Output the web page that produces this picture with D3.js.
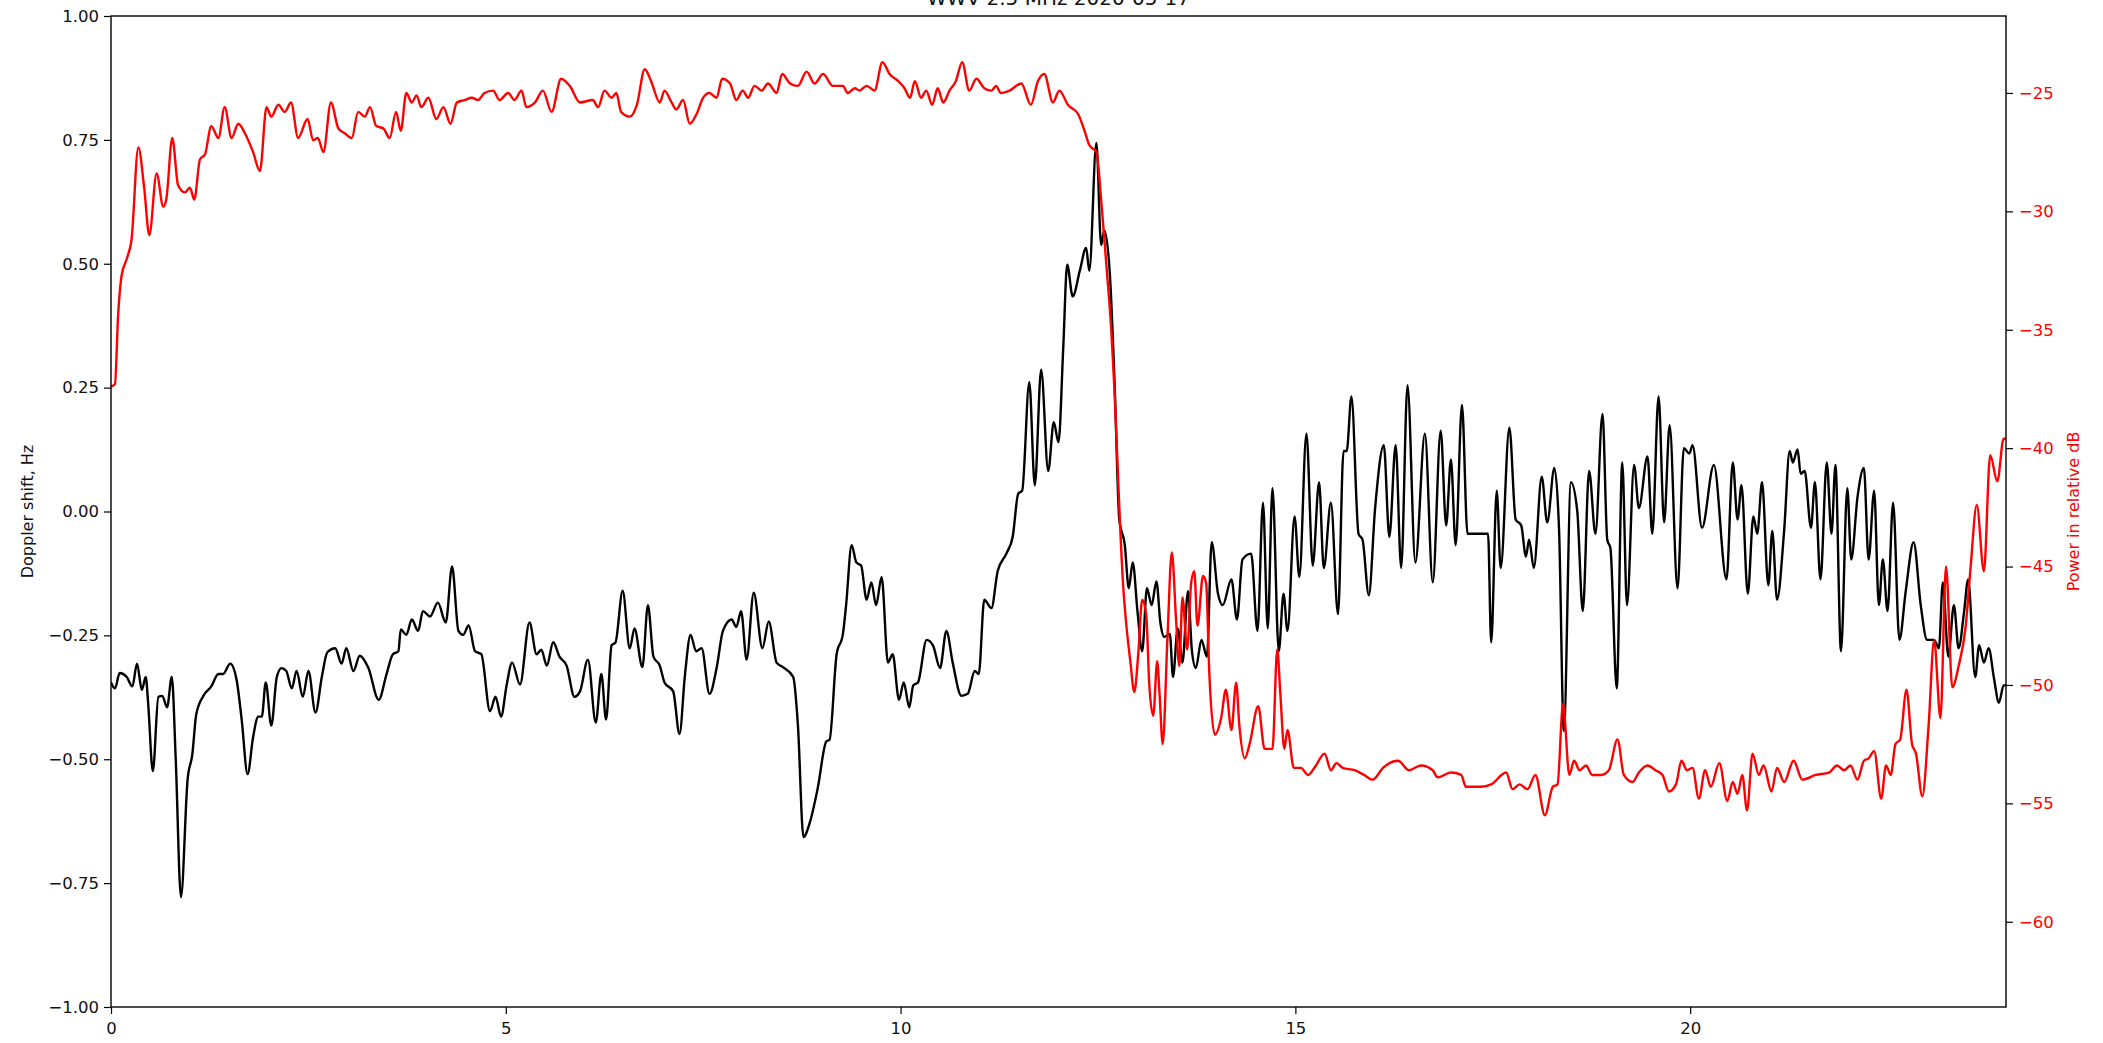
<!DOCTYPE html>
<html>
<head>
<meta charset="utf-8">
<script src="https://cdn.jsdelivr.net/npm/d3@7"></script>
<style>
  body { margin: 0; background: #fff; }
  text { font-family: "DejaVu Sans", sans-serif; }
</style>
</head>
<body>
<script>
// values
var titleText = "WWV 2.5 MHz 2020-05-17";

var hourTicks = [0, 5, 10, 15, 20];
var dopplerTicks = [-1, -0.75, -0.5, -0.25, 0, 0.25, 0.5, 0.75, 1];
var powerTicks = [-60, -55, -50, -45, -40, -35, -30, -25];

var dopplerHours = [
  0, 0.05, 0.11, 0.2, 0.27, 0.33, 0.39, 0.44, 0.47, 0.53, 0.6, 0.65, 0.71, 0.77, 0.82, 0.886, 0.97, 1.03, 1.08, 1.17,
  1.27, 1.36, 1.42, 1.51, 1.59, 1.655, 1.73, 1.8, 1.865, 1.91, 1.96, 2.03, 2.1, 2.16, 2.22, 2.29, 2.35, 2.43, 2.5, 2.59,
  2.67, 2.74, 2.84, 2.92, 2.98, 3.07, 3.15, 3.26, 3.39, 3.49, 3.57, 3.64, 3.67, 3.74, 3.81, 3.89, 3.95, 4.04, 4.14, 4.24,
  4.32, 4.4, 4.46, 4.53, 4.61, 4.69, 4.8, 4.87, 4.94, 5.01, 5.08, 5.18, 5.3, 5.39, 5.45, 5.52, 5.6, 5.68, 5.77, 5.87,
  5.94, 6.04, 6.14, 6.21, 6.27, 6.34, 6.39, 6.48, 6.57, 6.63, 6.73, 6.8, 6.87, 6.95, 7.01, 7.12, 7.2, 7.27, 7.34, 7.41,
  7.48, 7.58, 7.67, 7.75, 7.86, 7.92, 7.98, 8.05, 8.14, 8.25, 8.33, 8.43, 8.51, 8.64, 8.7, 8.77, 8.85, 8.95, 9.06, 9.1,
  9.19, 9.27, 9.31, 9.38, 9.44, 9.5, 9.57, 9.63, 9.69, 9.76, 9.84, 9.9, 9.98, 10.04, 10.11, 10.16, 10.22, 10.33, 10.41, 10.5,
  10.58, 10.66, 10.77, 10.85, 10.94, 10.99, 11.06, 11.15, 11.23, 11.34, 11.42, 11.49, 11.54, 11.63, 11.7, 11.78, 11.87, 11.94,
  12.0, 12.06, 12.11, 12.18, 12.27, 12.35, 12.39, 12.48, 12.54, 12.58, 12.65, 12.71, 12.77, 12.84, 12.89, 12.94, 13.0, 13.06,
  13.12, 13.18, 13.24, 13.29, 13.34, 13.41, 13.45, 13.51, 13.57, 13.64, 13.69, 13.74, 13.81, 13.88, 13.94, 14.02, 14.08, 14.19,
  14.26, 14.33, 14.44, 14.52, 14.59, 14.65, 14.71, 14.79, 14.85, 14.9, 14.99, 15.05, 15.14, 15.22, 15.3, 15.36, 15.45, 15.54,
  15.61, 15.65, 15.71, 15.8, 15.85, 15.93, 16.01, 16.12, 16.19, 16.27, 16.34, 16.42, 16.52, 16.64, 16.74, 16.84, 16.91, 16.97,
  17.03, 17.11, 17.18, 17.44, 17.48, 17.55, 17.6, 17.71, 17.79, 17.86, 17.92,
  17.96, 18.02, 18.12, 18.19, 18.28, 18.34, 18.4, 18.49, 18.57, 18.64, 18.72, 18.8, 18.89, 18.95, 18.99, 19.07, 19.14, 19.2,
  19.29, 19.35, 19.46, 19.52, 19.6, 19.67, 19.74, 19.84, 19.92, 19.99, 20.03, 20.15, 20.3, 20.46, 20.54, 20.6, 20.65, 20.73,
  20.8, 20.85, 20.91, 20.99, 21.04, 21.1, 21.19, 21.26, 21.3, 21.36, 21.4, 21.45, 21.53, 21.58, 21.65, 21.73, 21.79, 21.84,
  21.91, 21.99, 22.04, 22.12, 22.2, 22.26, 22.33, 22.39, 22.44, 22.5, 22.57, 22.65, 22.73, 22.83, 22.92, 23.0, 23.09, 23.15,
  23.2, 23.27, 23.34, 23.4, 23.47, 23.52, 23.61, 23.66, 23.72, 23.78, 23.85, 23.91, 23.97, 24.0
];
var dopplerShift = [
  -0.345, -0.357, -0.326, -0.334, -0.353, -0.307, -0.36, -0.334, -0.386, -0.524, -0.374, -0.372, -0.395, -0.334, -0.501, -0.778, -0.541, -0.49, -0.409, -0.372,
  -0.353, -0.328, -0.328, -0.307, -0.339, -0.42, -0.53, -0.455, -0.414, -0.414, -0.345, -0.432, -0.334, -0.316, -0.322, -0.357, -0.322, -0.374, -0.322, -0.406,
  -0.334, -0.284, -0.276, -0.307, -0.276, -0.322, -0.291, -0.316, -0.38, -0.328, -0.288, -0.282, -0.238, -0.249, -0.218, -0.241, -0.201, -0.212, -0.184, -0.224,
  -0.111, -0.241, -0.249, -0.23, -0.282, -0.288, -0.403, -0.374, -0.414, -0.351, -0.305, -0.349, -0.224, -0.288, -0.279, -0.311, -0.264, -0.293, -0.311, -0.374,
  -0.363, -0.299, -0.426, -0.328, -0.42, -0.27, -0.264, -0.16, -0.276, -0.236, -0.314, -0.189, -0.293, -0.311, -0.345, -0.363, -0.449, -0.328, -0.249, -0.282,
  -0.276, -0.368, -0.316, -0.241, -0.218, -0.233, -0.201, -0.299, -0.164, -0.276, -0.222, -0.305, -0.314, -0.334, -0.432, -0.657, -0.628, -0.559, -0.464, -0.461,
  -0.288, -0.247, -0.189, -0.068, -0.103, -0.109, -0.178, -0.143, -0.189, -0.132, -0.305, -0.288, -0.38, -0.345, -0.395, -0.351, -0.345, -0.259, -0.27, -0.316,
  -0.241, -0.305, -0.372, -0.368, -0.322, -0.328, -0.178, -0.195, -0.12, -0.085, -0.051, 0.036, 0.042, 0.261, 0.053, 0.286, 0.082, 0.18,
  0.14, 0.33, 0.498, 0.434, 0.486, 0.532, 0.486, 0.744, 0.538, 0.567, 0.48, 0.261, -0.016, -0.068, -0.155, -0.103, -0.201, -0.282,
  -0.155, -0.189, -0.141, -0.224, -0.253, -0.247, -0.334, -0.236, -0.305, -0.161, -0.282, -0.316, -0.259, -0.293, -0.062, -0.166, -0.189, -0.137,
  -0.218, -0.097, -0.085, -0.241, 0.018, -0.236, 0.047, -0.282, -0.166, -0.241, -0.01, -0.132, 0.157, -0.109, 0.059, -0.114, 0.018, -0.207,
  0.122, 0.122, 0.232, -0.045, -0.057, -0.169, 0.007, 0.134, -0.051, 0.134, -0.114, 0.255, -0.103, 0.157, -0.143, 0.163, -0.028, 0.105,
  -0.068, 0.215, -0.045, -0.045, -0.264, 0.042, -0.114, 0.169, -0.016, -0.028, -0.091,
  -0.057, -0.114, 0.07, -0.022, 0.088, -0.039, -0.443, 0.059, 0.001, -0.201, 0.082, -0.045, 0.197, -0.057, -0.074, -0.357, 0.099, -0.189,
  0.094, 0.007, 0.111, -0.045, 0.232, -0.022, 0.174, -0.155, 0.128, 0.117, 0.134, -0.033, 0.094, -0.137, 0.099, -0.016, 0.053, -0.166,
  -0.01, -0.045, 0.059, -0.149, -0.039, -0.178, -0.039, 0.122, 0.099, 0.125, 0.076, 0.082, -0.033, 0.059, -0.137, 0.099, -0.045, 0.094,
  -0.282, 0.047, -0.097, 0.03, 0.088, -0.097, 0.042, -0.189, -0.097, -0.201, 0.018, -0.259, -0.161, -0.062, -0.189, -0.259, -0.259, -0.276,
  -0.143, -0.293, -0.189, -0.276, -0.201, -0.137, -0.334, -0.27, -0.305, -0.276, -0.339, -0.386, -0.351, -0.351
];

var powerHours = [
  0, 0.05, 0.09, 0.135, 0.2, 0.26, 0.346, 0.42, 0.485, 0.578, 0.662, 0.7, 0.776, 0.85, 0.937, 1.0, 1.055, 1.127, 1.19, 1.27,
  1.36, 1.44, 1.527, 1.612, 1.696, 1.8, 1.886, 1.97, 2.03, 2.12, 2.2, 2.28, 2.37, 2.49, 2.56, 2.62, 2.69, 2.785, 2.88, 2.96,
  3.05, 3.13, 3.215, 3.28, 3.36, 3.45, 3.53, 3.61, 3.67, 3.74, 3.81, 3.87, 3.93, 4.02, 4.12, 4.21, 4.3, 4.38, 4.48, 4.57,
  4.65, 4.73, 4.84, 4.92, 5.03, 5.11, 5.2, 5.26, 5.37, 5.47, 5.58, 5.7, 5.81, 5.94,
  6.1, 6.17, 6.25, 6.34, 6.4, 6.46, 6.57, 6.66, 6.76, 6.84, 6.95, 7.01, 7.1, 7.16, 7.245, 7.33, 7.415, 7.5, 7.58, 7.67,
  7.74, 7.84, 7.92, 8.0, 8.07, 8.15, 8.24, 8.32, 8.43, 8.5, 8.6, 8.7, 8.81, 8.91, 9.02, 9.14, 9.27, 9.33, 9.42, 9.48,
  9.57, 9.67, 9.77, 9.86, 9.97, 10.05, 10.12, 10.18, 10.26, 10.325, 10.4, 10.47, 10.54, 10.62, 10.7, 10.78, 10.87, 10.96, 11.06, 11.15,
  11.21, 11.27, 11.38, 11.53, 11.65, 11.74, 11.82, 11.93,
  12.01, 12.12, 12.25, 12.33, 12.39, 12.48, 12.54, 12.6, 12.67, 12.71, 12.76, 12.815, 12.86, 12.91, 12.96, 13.01, 13.06, 13.11, 13.15, 13.2,
  13.25, 13.28, 13.32, 13.38, 13.435, 13.49, 13.53, 13.57, 13.63, 13.68, 13.72, 13.76, 13.83, 13.87, 13.91, 13.98, 14.06, 14.12, 14.19, 14.25,
  14.29, 14.36, 14.42, 14.53, 14.61, 14.71, 14.77, 14.81, 14.86, 14.9, 14.98, 15.07, 15.16, 15.26, 15.37, 15.45, 15.52, 15.6, 15.75, 15.87,
  15.98, 16.11, 16.3, 16.44, 16.59, 16.74, 16.8, 16.97, 17.1, 17.16, 17.35, 17.48, 17.67, 17.75, 17.84, 17.94,
  18.04, 18.16, 18.26, 18.32, 18.39, 18.47, 18.53, 18.6, 18.68, 18.76, 18.87, 18.97, 19.08, 19.16, 19.27, 19.35, 19.46, 19.56, 19.65, 19.73,
  19.82, 19.89, 19.96, 20.03, 20.11, 20.19, 20.26, 20.37, 20.47, 20.54, 20.6, 20.66, 20.72, 20.79, 20.87, 20.93, 21.03, 21.1, 21.19, 21.31,
  21.42, 21.59, 21.76, 21.86, 21.95, 22.03, 22.12, 22.2, 22.26, 22.33, 22.42, 22.48, 22.54, 22.6, 22.66, 22.74, 22.81, 22.86, 22.94, 23.02,
  23.09, 23.17, 23.24, 23.32, 23.4, 23.49, 23.55, 23.63, 23.72, 23.8, 23.89, 23.97, 24.0
];
var powerDb = [
  -37.4, -37.3, -34.4, -32.7, -32.0, -31.2, -27.3, -29.0, -31.0, -28.4, -29.8, -29.5, -26.9, -28.9, -29.2, -29.0, -29.5, -27.8, -27.6, -26.4,
  -26.9, -25.6, -26.9, -26.3, -26.7, -27.5, -28.3, -25.6, -26.0, -25.5, -25.8, -25.4, -26.9, -26.1, -27.0, -26.9, -27.5, -25.4, -26.5, -26.7,
  -26.9, -25.8, -26.0, -25.6, -26.4, -26.5, -26.9, -25.8, -26.6, -25.0, -25.4, -25.1, -25.6, -25.2, -26.1, -25.6, -26.3, -25.4, -25.3, -25.2,
  -25.3, -25.0, -24.9, -25.3, -25.0, -25.3, -24.9, -25.6, -25.4, -24.9, -25.8, -24.4, -24.7, -25.4,
  -25.3, -25.6, -24.9, -25.2, -25.0, -25.8, -26.0, -25.5, -24.0, -24.5, -25.4, -24.9, -25.4, -25.7, -25.3, -26.3, -25.9, -25.2, -25.0, -25.2,
  -24.4, -24.6, -25.3, -24.9, -25.2, -24.7, -24.9, -24.6, -25.0, -24.2, -24.6, -24.7, -24.1, -24.6, -24.2, -24.7, -24.7, -25.0, -24.8, -24.9,
  -24.7, -24.9, -23.7, -24.2, -24.5, -24.8, -25.2, -24.5, -25.2, -24.9, -25.5, -24.8, -25.4, -24.9, -24.5, -23.7, -24.9, -24.4, -24.8, -24.9,
  -24.7, -25.0, -24.9, -24.6, -25.5, -24.5, -24.2, -25.4,
  -24.9, -25.5, -25.9, -26.6, -27.2, -27.5, -29.5, -32.0, -35.1, -37.6, -41.7, -45.6, -47.5, -49.0, -50.3, -48.7, -46.4, -47.0, -50.0, -51.3,
  -49.0, -50.4, -52.5, -48.0, -44.4, -47.3, -49.2, -46.3, -48.5, -45.7, -45.2, -47.5, -45.4, -45.7, -49.5, -52.1, -51.4, -50.2, -51.9, -49.9,
  -51.7, -53.1, -52.5, -50.9, -52.7, -52.7, -48.5, -50.4, -52.7, -51.9, -53.5, -53.5, -53.8, -53.4, -52.9, -53.6, -53.3, -53.5, -53.6, -53.8,
  -54.0, -53.5, -53.2, -53.6, -53.4, -53.6, -53.9, -53.7, -53.8, -54.3, -54.3, -54.2, -53.7, -54.4, -54.2, -54.4,
  -53.8, -55.5, -54.3, -54.2, -50.8, -53.8, -53.2, -53.6, -53.4, -53.8, -53.8, -53.6, -52.3, -53.8, -54.1, -53.7, -53.4, -53.6, -53.8, -54.5,
  -54.2, -53.2, -53.6, -53.5, -54.8, -53.6, -54.3, -53.3, -54.9, -54.1, -54.6, -53.8, -55.3, -52.9, -53.8, -53.4, -54.5, -53.5, -54.1, -53.2,
  -54.0, -53.8, -53.7, -53.4, -53.6, -53.4, -54.0, -53.2, -53.1, -52.8, -54.8, -53.4, -53.8, -52.5, -52.3, -50.2, -52.5, -52.9, -54.7, -51.7,
  -48.1, -51.4, -45.0, -50.1, -49.2, -47.5, -45.1, -42.4, -45.2, -40.3, -41.4, -39.6, -39.6
];

var width = 2103;
var height = 1043;
var margin = { top: 16, right: 97, bottom: 36, left: 111 };

var svg = d3.select("body")
    .append("svg")
    .attr("width", width)
    .attr("height", height);

var x = d3.scaleLinear()
    .domain([0, 24])
    .range([margin.left, width - margin.right]);

var yDoppler = d3.scaleLinear()
    .domain([-1, 1])
    .range([height - margin.bottom, margin.top]);

var yPower = d3.scaleLinear()
    .domain([-63.6, -21.75])
    .range([height - margin.bottom, margin.top]);

svg.append("defs").append("clipPath")
    .attr("id", "plot-area")
    .append("rect")
    .attr("x", margin.left)
    .attr("y", margin.top)
    .attr("width", width - margin.left - margin.right)
    .attr("height", height - margin.top - margin.bottom);

// doppler (black) first, power (red) on the twin axis above it
var dopplerLine = d3.line()
    .x(function (d, i) { return x(dopplerHours[i]); })
    .y(function (d) { return yDoppler(d); })
    .curve(d3.curveMonotoneX);

var powerLine = d3.line()
    .x(function (d, i) { return x(powerHours[i]); })
    .y(function (d) { return yPower(d); })
    .curve(d3.curveMonotoneX);

var plot = svg.append("g").attr("clip-path", "url(#plot-area)");

plot.append("path")
    .datum(dopplerShift)
    .attr("d", dopplerLine)
    .attr("fill", "none")
    .attr("stroke", "#000")
    .attr("stroke-width", 2.4)
    .attr("stroke-linejoin", "round");

plot.append("path")
    .datum(powerDb)
    .attr("d", powerLine)
    .attr("fill", "none")
    .attr("stroke", "#ff0000")
    .attr("stroke-width", 2.4)
    .attr("stroke-linejoin", "round");

// axes
var xAxis = svg.append("g")
    .attr("transform", "translate(0," + (height - margin.bottom) + ")")
    .call(d3.axisBottom(x).tickValues(hourTicks).tickFormat(d3.format("d")).tickSize(7).tickPadding(8));

var leftAxis = svg.append("g")
    .attr("transform", "translate(" + margin.left + ",0)")
    .call(d3.axisLeft(yDoppler).tickValues(dopplerTicks).tickFormat(d3.format(".2f")).tickSize(7).tickPadding(5));

var rightAxis = svg.append("g")
    .attr("transform", "translate(" + (width - margin.right) + ",0)")
    .call(d3.axisRight(yPower).tickValues(powerTicks).tickFormat(d3.format("d")).tickSize(7).tickPadding(6));

[xAxis, leftAxis, rightAxis].forEach(function (g) {
    g.select(".domain").remove();
    g.selectAll(".tick line").attr("stroke", "#000").attr("stroke-width", 1.2);
    g.selectAll(".tick text")
        .attr("font-family", "DejaVu Sans, sans-serif")
        .attr("font-size", 16.5)
        .attr("fill", "#111");
});

rightAxis.selectAll(".tick text").attr("fill", "#ff0000");

// frame
svg.append("rect")
    .attr("x", margin.left)
    .attr("y", margin.top)
    .attr("width", width - margin.left - margin.right)
    .attr("height", height - margin.top - margin.bottom)
    .attr("fill", "none")
    .attr("stroke", "#000")
    .attr("stroke-width", 1.4);

// labels
svg.append("text")
    .attr("x", (margin.left + width - margin.right) / 2)
    .attr("y", 5)
    .attr("text-anchor", "middle")
    .attr("font-size", 20)
    .attr("fill", "#111")
    .text(titleText);

svg.append("text")
    .attr("transform", "translate(33," + (margin.top + height - margin.bottom) / 2 + ") rotate(-90)")
    .attr("text-anchor", "middle")
    .attr("font-size", 16)
    .attr("fill", "#111")
    .text("Doppler shift, Hz");

svg.append("text")
    .attr("transform", "translate(2079," + (margin.top + height - margin.bottom) / 2 + ") rotate(-90)")
    .attr("text-anchor", "middle")
    .attr("font-size", 16)
    .attr("fill", "#ff0000")
    .text("Power in relative dB");
</script>
</body>
</html>
